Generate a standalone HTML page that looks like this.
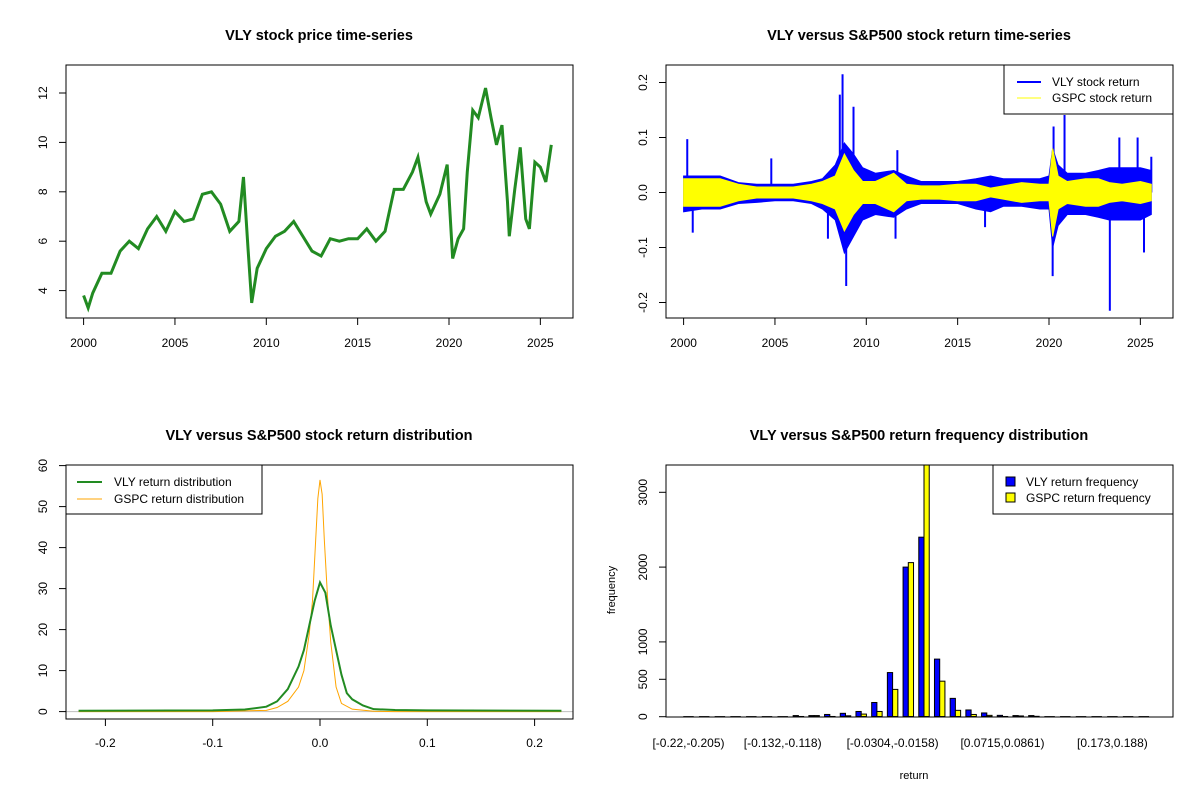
<!DOCTYPE html>
<html><head><meta charset="utf-8"><style>
html,body{margin:0;padding:0;background:#fff;}
svg{display:block;font-family:"Liberation Sans",Arial,sans-serif;}
.t{font-size:12px;fill:#000;}
.ttl{font-size:14.5px;font-weight:bold;fill:#000;}
</style></head><body>
<svg id="fig" width="1200" height="800" viewBox="0 0 1200 800">
<defs>
<clipPath id="c1"><rect x="66" y="65" width="507" height="253"/></clipPath>
<clipPath id="c2"><rect x="666" y="65" width="507" height="253"/></clipPath>
<clipPath id="c3"><rect x="66" y="465" width="507" height="254"/></clipPath>
<clipPath id="c4"><rect x="666" y="465" width="507" height="252"/></clipPath>
</defs>
<text class="ttl" x="319" y="40" text-anchor="middle">VLY stock price time-series</text>
<text class="ttl" x="919" y="40" text-anchor="middle">VLY versus S&amp;P500 stock return time-series</text>
<text class="ttl" x="319" y="440" text-anchor="middle">VLY versus S&amp;P500 stock return distribution</text>
<text class="ttl" x="919" y="440" text-anchor="middle">VLY versus S&amp;P500 return frequency distribution</text>
<g id="p1"></g>
<g id="p2"></g>
<g id="p3"></g>
<g id="p4"></g>
</svg>
<script>
// ---- data ----
const priceYears=[2000.0,2000.25,2000.5,2001,2001.5,2002,2002.5,2003,2003.5,2004,2004.5,2005,2005.5,2006,2006.5,2007,2007.5,2008,2008.5,2008.75,2009,2009.2,2009.5,2010,2010.5,2011,2011.5,2012,2012.5,2013,2013.5,2014,2014.5,2015,2015.5,2016,2016.5,2017,2017.5,2018,2018.3,2018.75,2019,2019.5,2019.9,2020.2,2020.5,2020.8,2021,2021.3,2021.6,2022,2022.3,2022.6,2022.9,2023.2,2023.3,2023.6,2023.9,2024.2,2024.4,2024.7,2025,2025.3,2025.6];
const priceVals=[3.8,3.3,3.9,4.7,4.7,5.6,6.0,5.7,6.5,7.0,6.4,7.2,6.8,6.9,7.9,8.0,7.5,6.4,6.8,8.6,5.7,3.5,4.9,5.7,6.2,6.4,6.8,6.2,5.6,5.4,6.1,6.0,6.1,6.1,6.5,6.0,6.4,8.1,8.1,8.8,9.4,7.6,7.1,7.9,9.1,5.3,6.1,6.5,8.8,11.3,11.0,12.2,11.0,9.9,10.7,7.6,6.2,8.1,9.8,6.9,6.5,9.2,9.0,8.4,9.9];
const priceYTicks=[4,6,8,10,12];
const yearTicks=[2000,2005,2010,2015,2020,2025];

const retYears=[2000,2001,2002,2003,2004,2005,2006,2007,2007.6,2008.3,2008.8,2009.3,2009.8,2010.5,2011.5,2012.2,2013,2014,2015,2016,2016.8,2017.5,2018.5,2019.5,2020.0,2020.2,2020.5,2021,2022,2022.7,2023.3,2024,2025,2025.6];
const vlyHi=[0.03,0.03,0.03,0.018,0.015,0.015,0.015,0.02,0.025,0.05,0.09,0.07,0.045,0.035,0.04,0.03,0.02,0.02,0.02,0.025,0.03,0.025,0.025,0.025,0.03,0.08,0.05,0.035,0.035,0.04,0.045,0.045,0.045,0.04];
const vlyLo=[-0.035,-0.03,-0.03,-0.02,-0.018,-0.015,-0.015,-0.02,-0.03,-0.05,-0.11,-0.08,-0.05,-0.04,-0.045,-0.03,-0.02,-0.02,-0.02,-0.03,-0.035,-0.025,-0.025,-0.03,-0.03,-0.1,-0.06,-0.04,-0.04,-0.045,-0.05,-0.05,-0.05,-0.04];
const gspcAmp=[0.025,0.025,0.025,0.015,0.01,0.01,0.01,0.015,0.02,0.03,0.07,0.04,0.02,0.02,0.035,0.015,0.012,0.012,0.015,0.015,0.008,0.012,0.018,0.015,0.015,0.08,0.03,0.02,0.025,0.025,0.018,0.015,0.02,0.015];
const spikeYears=[2000.2,2000.5,2004.8,2007.9,2008.55,2008.7,2008.9,2009.3,2011.6,2011.7,2016.5,2020.2,2020.25,2020.85,2023.33,2023.85,2024.85,2025.2,2025.6];
const spikeVals=[0.097,-0.073,0.062,-0.084,0.178,0.215,-0.17,0.156,-0.084,0.077,-0.063,-0.152,0.12,0.141,-0.215,0.10,0.10,-0.109,0.065];
const retYTicks=[-0.2,-0.1,0.0,0.1,0.2];

const vlyDensX=[-0.225,-0.1,-0.07,-0.05,-0.04,-0.03,-0.02,-0.015,-0.01,-0.005,0,0.005,0.01,0.015,0.02,0.025,0.03,0.04,0.05,0.07,0.1,0.225];
const vlyDensY=[0.2,0.3,0.5,1.2,2.5,5.5,11,15,21,27,31.5,29,21,15,9,4.5,3,1.5,0.6,0.4,0.3,0.2];
const gspcDensX=[-0.225,-0.1,-0.05,-0.04,-0.03,-0.02,-0.015,-0.01,-0.007,-0.004,-0.002,0,0.002,0.004,0.007,0.01,0.015,0.02,0.03,0.05,0.07,0.225];
const gspcDensY=[0,0,0.3,1,2.5,6,10,19,27,42,52,56.5,53,42,28,17,6,2,0.6,0.1,0,0];
const densXTicks=[-0.2,-0.1,0.0,0.1,0.2];
const densYTicks=[0,10,20,30,40,50,60];

const histBreaks=["-0.22","-0.205","-0.191","-0.176","-0.161","-0.147","-0.132","-0.118","-0.103","-0.0887","-0.0741","-0.0596","-0.045","-0.0304","-0.0158","-0.00125","0.0133","0.0279","0.0424","0.057","0.0715","0.0861","0.101","0.115","0.13","0.144","0.159","0.173","0.188","0.203","0.217"];
const vlyFreq=[0,0,0,0,0,0,0,15,15,30,45,70,190,590,2000,2400,770,245,90,50,18,15,15,0,0,0,0,0,0,0];
const gspcFreq=[0,0,0,0,0,0,0,3,15,3,12,35,70,365,2060,3500,475,85,30,18,3,10,5,0,0,0,0,0,0,0];
const histShown=[0,6,13,20,27];
const histYTicks=[0,500,1000,2000,3000];

// ---- helpers ----
const NS="http://www.w3.org/2000/svg";
function mk(tag,attrs,parent){const e=document.createElementNS(NS,tag);for(const k in attrs)e.setAttribute(k,attrs[k]);parent.appendChild(e);return e;}
function txt(s,x,y,parent,anchor,rot){const e=mk("text",{x:x,y:y,"class":"t","text-anchor":anchor||"middle"},parent);if(rot)e.setAttribute("transform","rotate(-90 "+x+" "+y+")");e.textContent=s;return e;}
function fmt(v,d){return v.toFixed(d);}

const yearX=(L)=>(yr)=>L+17.6+(yr-2000)*18.27;

// ---- panel 1 price ----
(function(){
 const g=document.getElementById("p1");
 const X=yearX(66), Y=v=>290.6-(v-4)*24.7;
 const line=mk("polyline",{points:priceYears.map((yr,i)=>X(yr)+","+Y(priceVals[i])).join(" "),fill:"none",stroke:"#228b22","stroke-width":3,"stroke-linejoin":"miter","clip-path":"url(#c1)"},g);
 
 
 const box=mk("rect",{x:66,y:65,width:507,height:253,fill:"none",stroke:"#000","stroke-width":1},g);
 
 
 mk("line",{x1:X(2000),x2:X(2025),y1:318,y2:318,stroke:"#000"},g);
 yearTicks.forEach(t=>{mk("line",{x1:X(t),x2:X(t),y1:318,y2:325,stroke:"#000"},g);const l=txt(String(t),X(t),347,g);
  
  });
 priceYTicks.forEach(t=>{mk("line",{x1:59,x2:66,y1:Y(t),y2:Y(t),stroke:"#000"},g);const l=txt(String(t),47,Y(t),g,"middle",true);
  
  });
})();

// ---- panel 2 returns ----
(function(){
 const g=document.getElementById("p2");
 const X=yearX(666), Y=v=>192.5-v*550;
 const cg=mk("g",{"clip-path":"url(#c2)"},g);
 const pts=retYears.map((yr,i)=>X(yr)+","+Y(vlyHi[i])).concat(retYears.slice().reverse().map((yr,j)=>{const i=retYears.length-1-j;return X(yr)+","+Y(vlyLo[i]);}));
 const band=mk("polygon",{points:pts.join(" "),fill:"#0000ff",stroke:"#0000ff","stroke-width":1},cg);
 
 
 spikeYears.forEach((yr,i)=>{const s=mk("line",{x1:X(yr),x2:X(yr),y1:Y(0),y2:Y(spikeVals[i]),stroke:"#0000ff","stroke-width":2},cg);
  
  });
 const gp=retYears.map((yr,i)=>X(yr)+","+Y(gspcAmp[i])).concat(retYears.slice().reverse().map((yr,j)=>{const i=retYears.length-1-j;return X(yr)+","+Y(-gspcAmp[i]);}));
 const yb=mk("polygon",{points:gp.join(" "),fill:"#ffff00",stroke:"#ffff00","stroke-width":1},cg);
 
 
 const box=mk("rect",{x:666,y:65,width:507,height:253,fill:"none",stroke:"#000"},g);
 
 
 yearTicks.forEach(t=>{mk("line",{x1:X(t),x2:X(t),y1:318,y2:325,stroke:"#000"},g);const l=txt(String(t),X(t),347,g);
  
  });
 retYTicks.forEach(t=>{mk("line",{x1:659,x2:666,y1:Y(t),y2:Y(t),stroke:"#000"},g);const l=txt(fmt(t,1),647,Y(t),g,"middle",true);
  
  });
 const lg=mk("g",{},g);
 
 
 mk("rect",{x:1004,y:65,width:169,height:49,fill:"#fff",stroke:"#000"},lg);
 mk("line",{x1:1017,x2:1041,y1:82,y2:82,stroke:"#0000ff","stroke-width":2},lg);
 mk("line",{x1:1017,x2:1041,y1:98,y2:98,stroke:"#ffff00","stroke-width":1},lg);
 const a=txt("VLY stock return",1052,86,lg,"start");
 const b=txt("GSPC stock return",1052,102,lg,"start");
})();

// ---- panel 3 density ----
(function(){
 const g=document.getElementById("p3");
 const X=v=>320+v*1073, Y=v=>711.6-v*4.1;
 const cg=mk("g",{"clip-path":"url(#c3)"},g);
 mk("line",{x1:66,x2:573,y1:Y(0),y2:Y(0),stroke:"#bebebe"},cg);
 const step=(xs,ys)=>{let p=[];xs.forEach((x,i)=>{p.push(X(x)+","+Y(ys[i]));});return p.join(" ");};
 const gl=mk("polyline",{points:step(gspcDensX,gspcDensY),fill:"none",stroke:"#ffa500","stroke-width":1},cg);
 
 
 const vl=mk("polyline",{points:step(vlyDensX,vlyDensY),fill:"none",stroke:"#228b22","stroke-width":2},cg);
 
 
 const box=mk("rect",{x:66,y:465,width:507,height:254,fill:"none",stroke:"#000"},g);
 
 
 densXTicks.forEach(t=>{mk("line",{x1:X(t),x2:X(t),y1:719,y2:726,stroke:"#000"},g);const l=txt(fmt(t,1),X(t),747,g);
  
  });
 densYTicks.forEach(t=>{mk("line",{x1:59,x2:66,y1:Y(t),y2:Y(t),stroke:"#000"},g);const l=txt(String(t),47,Y(t),g,"middle",true);
  
  });
 const lg=mk("g",{},g);
 
 
 mk("rect",{x:66,y:465,width:196,height:49,fill:"#fff",stroke:"#000"},lg);
 mk("line",{x1:77,x2:102,y1:482,y2:482,stroke:"#228b22","stroke-width":2},lg);
 mk("line",{x1:77,x2:102,y1:499,y2:499,stroke:"#ffa500","stroke-width":1},lg);
 const a=txt("VLY return distribution",114,486,lg,"start");
 const b=txt("GSPC return distribution",114,503,lg,"start");
})();

// ---- panel 4 histogram ----
(function(){
 const g=document.getElementById("p4");
 const C=i=>688.5+i*15.7, W=5.23, Y=v=>716.7-v*0.0748;
 const cg=mk("g",{"clip-path":"url(#c4)"},g);
 vlyFreq.forEach((v,i)=>{
  const r=mk("rect",{x:C(i)-W,y:Y(v),width:W,height:Math.max(0,Y(0)-Y(v)),fill:"#0000ff",stroke:"#000","stroke-width":1},cg);
  
  
  const r2=mk("rect",{x:C(i),y:Y(gspcFreq[i]),width:W,height:Math.max(0,Y(0)-Y(gspcFreq[i])),fill:"#ffff00",stroke:"#000","stroke-width":1},cg);
  
  
  mk("line",{x1:C(i)-W,x2:C(i)+W,y1:Y(0),y2:Y(0),stroke:"#000","stroke-width":1.2},cg);
 });
 const box=mk("rect",{x:666,y:465,width:507,height:252,fill:"none",stroke:"#000"},g);
 
 
 histShown.forEach(i=>{const l=txt("["+histBreaks[i]+","+histBreaks[i+1]+")",C(i),747,g);
  
  });
 histYTicks.forEach(t=>{mk("line",{x1:659,x2:666,y1:Y(t),y2:Y(t),stroke:"#000"},g);const l=txt(String(t),647,Y(t),g,"middle",true);
  
  });
 const xl=txt("return",914,779,g);xl.style.fontSize="11px";
 const yl=txt("frequency",615,590,g,"middle",true);yl.style.fontSize="11px";
 const lg=mk("g",{},g);
 
 
 mk("rect",{x:993,y:465,width:180,height:49,fill:"#fff",stroke:"#000"},lg);
 mk("rect",{x:1006,y:477,width:9,height:9,fill:"#0000ff",stroke:"#000"},lg);
 mk("rect",{x:1006,y:493,width:9,height:9,fill:"#ffff00",stroke:"#000"},lg);
 const a=txt("VLY return frequency",1026,486,lg,"start");
 const b=txt("GSPC return frequency",1026,502,lg,"start");
})();
</script>
</body></html>
